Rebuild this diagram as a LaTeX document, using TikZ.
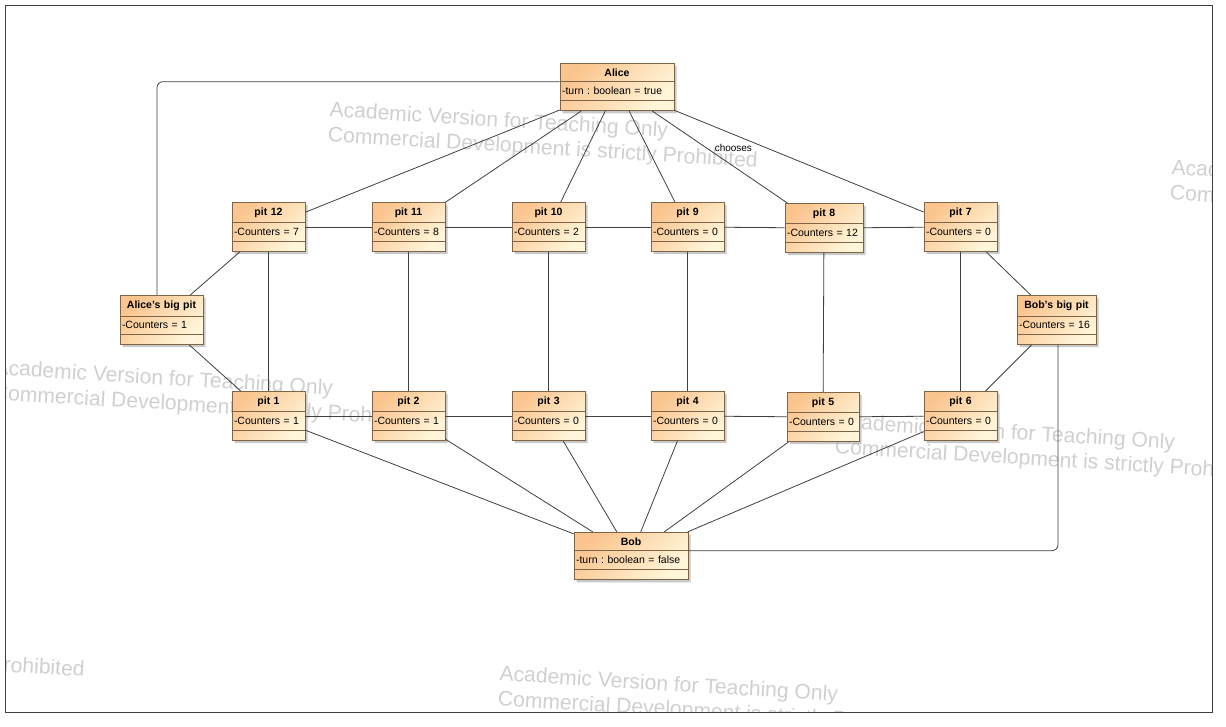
\documentclass[tikz,border=0pt]{standalone}
\usepackage{fontspec}
\setmainfont{Liberation Sans}
\usetikzlibrary{shapes.multipart,shadows}
\definecolor{umlorange}{RGB}{250,196,142}
\definecolor{umlpale}{RGB}{255,246,218}
\definecolor{umlborder}{RGB}{128,100,72}
\definecolor{linkgray}{RGB}{64,64,64}
\definecolor{markgray}{RGB}{208,208,208}
\newcommand{\objtext}[2]{{\centering\bfseries #1\par}\nodepart{two}#2\nodepart{three}}
\frenchspacing
\begin{document}
\begin{tikzpicture}[x=1pt,y=-1pt]

\tikzset{umlobj/.style={rectangle split, rectangle split parts=3, draw=umlborder, line width=0.7pt,
  left color=umlorange, right color=umlpale, shading angle=45,
  drop shadow={shadow xshift=2.5pt,shadow yshift=-2.5pt,fill=black!35,opacity=0.6},
  inner xsep=2pt, inner ysep=5pt, text width=#1, font=\fontsize{10.5}{12}\selectfont,
  rectangle split empty part height=0pt},
  umlobj/.default=69pt}
\tikzset{link/.style={draw=linkgray, line width=0.8pt}}
\tikzset{wmark/.style={anchor=north west, rotate=-3.5, inner sep=0pt, align=left, text=markgray,
  font=\fontsize{21.1}{25}\selectfont}}

  \fill[white] (0,0) rectangle (1226,726);
  \useasboundingbox (0,0) rectangle (1226,726);

  % watermark
  \begin{scope}
    \clip (5,5) rectangle (1212,712);
    \foreach \wx/\wy [count=\i] in {330/101,1172/159,-5/359,837/413,-343/610,500/665}
      \node[wmark] (wm\i) at (\wx,\wy) {Academic Version for Teaching Only\\Commercial Development is strictly Prohibited};
  \end{scope}

  \draw[draw=black!75, line width=0.8pt] (5,5) rectangle (1212,712);

  % players
  \node[umlobj=110pt] (alice) at (617,87) {\objtext{Alice}{-turn : boolean = true}};
  \node[umlobj=110pt] (bob) at (631,556) {\objtext{Bob}{-turn : boolean = false}};

  % big pits
  \node[umlobj=79pt] (abig) at (161.5,320) {\objtext{Alice's big pit}{-Counters = 1}};
  \node[umlobj=75pt] (bbig) at (1056.5,320) {\objtext{Bob's big pit}{-Counters = 16}};

  % top row
  \node[umlobj] (pit12) at (268.5,227) {\objtext{pit 12}{-Counters = 7}};
  \node[umlobj] (pit11) at (408.5,227) {\objtext{pit 11}{-Counters = 8}};
  \node[umlobj] (pit10) at (548.5,227) {\objtext{pit 10}{-Counters = 2}};
  \node[umlobj] (pit9) at (687.5,227) {\objtext{pit 9}{-Counters = 0}};
  \node[umlobj=74pt] (pit8) at (824,228) {\objtext{pit 8}{-Counters = 12}};
  \node[umlobj] (pit7) at (960.5,227) {\objtext{pit 7}{-Counters = 0}};

  % bottom row
  \node[umlobj] (pit1) at (268.5,416) {\objtext{pit 1}{-Counters = 1}};
  \node[umlobj] (pit2) at (408.5,416) {\objtext{pit 2}{-Counters = 1}};
  \node[umlobj] (pit3) at (548.5,416) {\objtext{pit 3}{-Counters = 0}};
  \node[umlobj] (pit4) at (687.5,416) {\objtext{pit 4}{-Counters = 0}};
  \node[umlobj=68pt] (pit5) at (823,417) {\objtext{pit 5}{-Counters = 0}};
  \node[umlobj] (pit6) at (960.5,416) {\objtext{pit 6}{-Counters = 0}};

  %edges for alice
  \draw[link] (alice) -- (pit12);
  \draw[link] (alice) -- (pit11);
  \draw[link] (alice) -- (pit10);
  \draw[link] (alice) -- (pit9);
  \draw[link] (alice) -- node[pos=0.6, yshift=18pt, font=\fontsize{10}{12}\selectfont] (lbl) {chooses} (pit8);
  \draw[link] (alice) -- (pit7);
  \draw[link, rounded corners=6pt] (alice.one split west) -| ([xshift=-4.5pt]abig.north);

  %edges for bob
  \foreach \p in {pit1,pit2,pit3,pit4,pit5,pit6}
    \draw[link] (bob) -- (\p);
  \draw[link, rounded corners=6pt] ([xshift=1.5pt]bbig.south) |- (bob.one split east);

  %ring of pits
  \draw[link] (pit12) -- (pit11);
  \draw[link] (pit11) -- (pit10);
  \draw[link] (pit10) -- (pit9);
  \draw[link] (pit9) -- (pit8);
  \draw[link] (pit8) -- (pit7);
  \draw[link] (pit1) -- (pit2);
  \draw[link] (pit2) -- (pit3);
  \draw[link] (pit3) -- (pit4);
  \draw[link] (pit4) -- (pit5);
  \draw[link] (pit5) -- (pit6);
  \draw[link] (pit12) -- (abig);
  \draw[link] (abig) -- (pit1);
  \draw[link] (pit7) -- (bbig);
  \draw[link] (bbig) -- (pit6);

  %opposite pits
  \draw[link] (pit12) -- (pit1);
  \draw[link] (pit11) -- (pit2);
  \draw[link] (pit10) -- (pit3);
  \draw[link] (pit9) -- (pit4);
  \draw[link] (pit8) -- (pit5);
  \draw[link] (pit7) -- (pit6);

\end{tikzpicture}
\end{document}
